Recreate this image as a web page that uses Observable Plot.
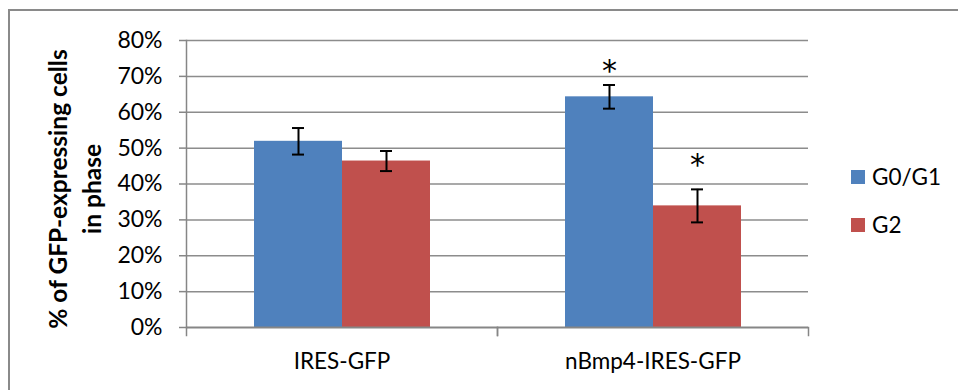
<!DOCTYPE html>
<html>
<head>
<meta charset="utf-8">
<script src="https://cdn.jsdelivr.net/npm/d3@7"></script>
<script src="https://cdn.jsdelivr.net/npm/@observablehq/plot@0.6"></script>
<style>
  html, body { margin: 0; padding: 0; background: #fff; }
  #wrap { position: relative; width: 958px; height: 390px; overflow: hidden; font-family: Lato, "Open Sans", sans-serif; color: #000; }
  #border { position: absolute; left: 8px; top: 9px; width: 1000px; height: 500px; border-left: 2px solid #8a8a8a; border-top: 2px solid #8a8a8a; box-sizing: border-box; }
  #chart { position: absolute; left: 0; top: 0; }
  #ylabel { position: absolute; left: 75px; top: 189px; transform: translate(-50%, -50%) rotate(-90deg); white-space: nowrap; text-align: center; font-weight: bold; font-size: 24.5px; line-height: 34px; }
  .leg { position: absolute; left: 851px; display: flex; align-items: center; font-size: 22.5px; }
  .sw { width: 14px; height: 14px; margin-right: 7px; }
</style>
</head>
<body>
<div id="wrap">
  <div id="border"></div>
  <div id="chart"></div>
  <div id="ylabel">% of GFP-expressing cells<br>in phase</div>
  <div id="legend"></div>
</div>
<script>
const categories = ["IRES-GFP", "nBmp4-IRES-GFP"];
const series = ["G0/G1", "G2"];
const seriesColors = ["#4F81BD", "#C0504D"];
const g0g1Mean = [0.519, 0.643];
const g0g1Err = [0.037, 0.033];
const g2Mean = [0.464, 0.339];
const g2Err = [0.028, 0.046];
const g0g1Star = ["", "*"];
const g2Star = ["", "*"];
const g0g1StarLevel = [null, 0.725];
const g2StarLevel = [null, 0.462];
const yTicks = [0, 0.1, 0.2, 0.3, 0.4, 0.5, 0.6, 0.7, 0.8];

const rows = [];
categories.forEach((c, i) => {
  rows.push({category: c, series: series[0], value: g0g1Mean[i], err: g0g1Err[i], star: g0g1Star[i], starY: g0g1StarLevel[i]});
  rows.push({category: c, series: series[1], value: g2Mean[i], err: g2Err[i], star: g2Star[i], starY: g2StarLevel[i]});
});
rows.forEach(d => { d.lo = d.value - d.err; d.hi = d.value + d.err; });
const stars = rows.filter(d => d.star);

const gridColor = "#8c8c8c";
const axisColor = "#868686";

const chart = Plot.plot({
  width: 958,
  height: 390,
  marginLeft: 185,
  marginRight: 150,
  marginTop: 40,
  marginBottom: 63,
  style: {fontFamily: "Lato, 'Open Sans', sans-serif", color: "#000", background: "transparent"},
  fx: {domain: categories, padding: 0},
  x: {domain: series, paddingInner: 0, paddingOuter: 0.76, axis: null},
  y: {domain: [0, 0.8]},
  color: {domain: series, range: seriesColors},
  marks: [
    Plot.ruleY(yTicks.filter(t => t > 0), {stroke: gridColor, strokeWidth: 1.5}),
    Plot.barY(rows, {fx: "category", x: "series", y: "value", fill: "series"}),
    Plot.ruleX(rows, {fx: "category", x: "series", y1: "lo", y2: "hi", stroke: "#000", strokeWidth: 2}),
    Plot.tickY(rows, {fx: "category", x: "series", y: "lo", stroke: "#000", strokeWidth: 2, insetLeft: 38, insetRight: 38}),
    Plot.tickY(rows, {fx: "category", x: "series", y: "hi", stroke: "#000", strokeWidth: 2, insetLeft: 38, insetRight: 38}),
    Plot.text(stars, {fx: "category", x: "series", y: "starY", text: "star", fontSize: 30, fontFamily: "DejaVu Sans", dy: 4, fill: "#000"}),
    Plot.ruleY([0], {stroke: axisColor, strokeWidth: 2}),
    Plot.frame({anchor: "left", facetAnchor: "left", stroke: axisColor, strokeWidth: 1.5}),
    Plot.frame({anchor: "left", stroke: axisColor, strokeWidth: 1.5, insetTop: 287, insetBottom: -8}),
    Plot.frame({anchor: "right", stroke: axisColor, strokeWidth: 1.5, insetTop: 287, insetBottom: -8}),
    Plot.axisY({ticks: yTicks, tickFormat: d3.format(".0%"), tickSize: 7, tickPadding: 17, fontSize: 23, stroke: axisColor, strokeWidth: 1.5, label: null}),
    Plot.axisFx({anchor: "bottom", tickSize: 0, tickPadding: 26, fontSize: 22.5, label: null})
  ]
});
document.getElementById("chart").appendChild(chart);

const legend = document.getElementById("legend");
const legendTops = [163, 211];
series.forEach((s, i) => {
  const row = document.createElement("div");
  row.className = "leg";
  row.style.top = legendTops[i] + "px";
  const sw = document.createElement("div");
  sw.className = "sw";
  sw.style.background = seriesColors[i];
  const t = document.createElement("span");
  t.textContent = s;
  row.appendChild(sw);
  row.appendChild(t);
  legend.appendChild(row);
});
</script>
</body>
</html>
